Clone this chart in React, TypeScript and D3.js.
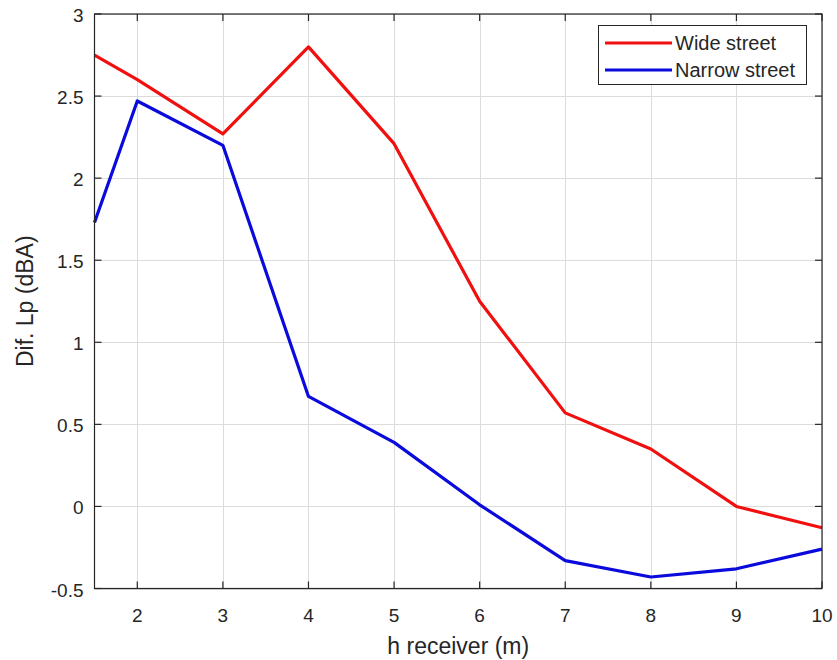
import * as d3 from "d3";
import {useRef, useEffect} from "react";

// receiver heights (m)
const heights = [1.5, 2, 3, 4, 5, 6, 7, 8, 9, 10];
// level difference, dBA
const wideStreet = [2.75, 2.6, 2.27, 2.8, 2.21, 1.25, 0.57, 0.35, 0.0, -0.13];
const narrowStreet = [1.73, 2.47, 2.2, 0.67, 0.39, 0.01, -0.33, -0.43, -0.38, -0.26];
const xTicks = [2, 3, 4, 5, 6, 7, 8, 9, 10];
const yTicks = [-0.5, 0, 0.5, 1, 1.5, 2, 2.5, 3];
const seriesNames = ["Wide street", "Narrow street"];
const seriesColors = ["#f01010", "#0a0adc"];

const App = () => {
    const ref = useRef(null);

    useEffect(() => {
        document.body.style.margin = "0";
        const width = 837, height = 660;
        const left = 94.5, right = 822, top = 14, bottom = 588.5;
        const ink = "#262626";
        const font = "'Liberation Sans', Arial, sans-serif";

        const root = d3.select(ref.current);
        root.selectAll("*").remove();
        const svg = root.append("svg")
            .attr("width", width)
            .attr("height", height)
            .style("display", "block")
            .style("background", "#fff");

        const x = d3.scaleLinear().domain([1.5, 10]).range([left, right]);
        const y = d3.scaleLinear().domain([-0.5, 3]).range([bottom, top]);

        // grid
        const grid = svg.append("g").attr("stroke", "#dcdcdc").attr("stroke-width", 1);
        grid.selectAll(".gx").data(xTicks).join("line")
            .attr("x1", d => Math.round(x(d)) + 0.5).attr("x2", d => Math.round(x(d)) + 0.5)
            .attr("y1", top).attr("y2", bottom);
        grid.selectAll(".gy").data(yTicks).join("line")
            .attr("y1", d => Math.round(y(d)) + 0.5).attr("y2", d => Math.round(y(d)) + 0.5)
            .attr("x1", left).attr("x2", right);

        // lines
        const line = d3.line<number>()
            .x((d, i) => x(heights[i]))
            .y(d => y(d));
        [wideStreet, narrowStreet].forEach((s, k) => {
            svg.append("path")
                .datum(s)
                .attr("fill", "none")
                .attr("stroke", seriesColors[k])
                .attr("stroke-width", 3.2)
                .attr("stroke-linejoin", "round")
                .attr("d", line);
        });

        // box + ticks
        svg.append("rect")
            .attr("x", left).attr("y", top)
            .attr("width", right - left).attr("height", bottom - top)
            .attr("fill", "none").attr("stroke", ink).attr("stroke-width", 1.2);

        const ticks = svg.append("g").attr("stroke", ink).attr("stroke-width", 1.2);
        xTicks.forEach(t => {
            ticks.append("line").attr("x1", x(t)).attr("x2", x(t)).attr("y1", bottom).attr("y2", bottom - 7);
            ticks.append("line").attr("x1", x(t)).attr("x2", x(t)).attr("y1", top).attr("y2", top + 7);
        });
        yTicks.forEach(t => {
            ticks.append("line").attr("y1", y(t)).attr("y2", y(t)).attr("x1", left).attr("x2", left + 7);
            ticks.append("line").attr("y1", y(t)).attr("y2", y(t)).attr("x1", right).attr("x2", right - 7);
        });

        // tick labels
        svg.append("g").selectAll("text").data(xTicks).join("text")
            .attr("x", d => x(d)).attr("y", 622)
            .attr("text-anchor", "middle")
            .attr("font-family", font).attr("font-size", 19).attr("fill", ink)
            .text(d => d);
        svg.append("g").selectAll("text").data(yTicks).join("text")
            .attr("x", left - 11).attr("y", d => y(d) + 8)
            .attr("text-anchor", "end")
            .attr("font-family", font).attr("font-size", 19).attr("fill", ink)
            .text(d => d);

        // axis titles
        svg.append("text")
            .attr("x", (left + right) / 2).attr("y", 654)
            .attr("text-anchor", "middle")
            .attr("font-family", font).attr("font-size", 23).attr("fill", ink)
            .text("h receiver (m)");
        svg.append("text")
            .attr("transform", `translate(33,${(top + bottom) / 2}) rotate(-90)`)
            .attr("text-anchor", "middle")
            .attr("font-family", font).attr("font-size", 23).attr("fill", ink)
            .text("Dif. Lp (dBA)");

        // legend
        const lg = svg.append("g");
        lg.append("rect")
            .attr("x", 598.5).attr("y", 25.5).attr("width", 208).attr("height", 59)
            .attr("fill", "#fff").attr("stroke", ink).attr("stroke-width", 1);
        seriesNames.forEach((name, k) => {
            const ly = 43 + k * 27;
            lg.append("line")
                .attr("x1", 605).attr("x2", 672).attr("y1", ly).attr("y2", ly)
                .attr("stroke", seriesColors[k]).attr("stroke-width", 3.2);
            lg.append("text")
                .attr("x", 675).attr("y", ly + 7)
                .attr("font-family", font).attr("font-size", 20).attr("fill", ink)
                .text(name);
        });
    }, []);

    return <div ref={ref}></div>;
};

export default App;
